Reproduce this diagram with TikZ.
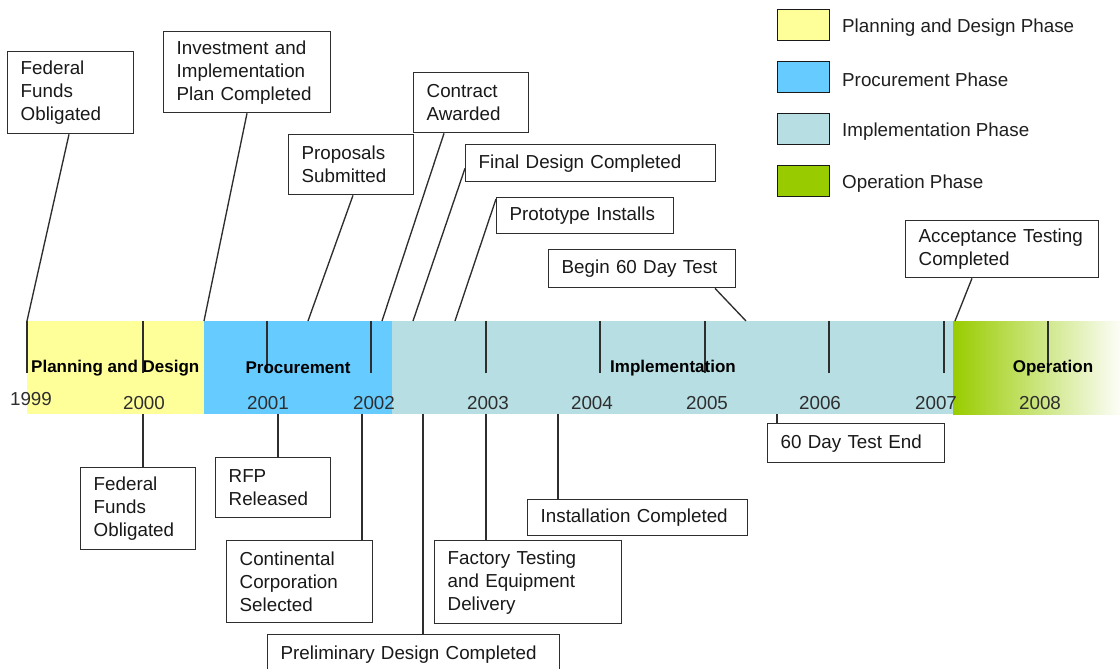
\documentclass[tikz,border=0pt]{standalone}
\usepackage{fontspec}
\setmainfont{Liberation Sans}
\definecolor{pyellow}{HTML}{FFFF99}
\definecolor{pblue}{HTML}{66CCFF}
\definecolor{pcyan}{HTML}{B7DEE3}
\definecolor{pgreen}{HTML}{99CC00}
\definecolor{lnc}{HTML}{2E2E2E}
\begin{document}
\begin{tikzpicture}[x=1pt,y=-1pt,
  cbox/.style={draw=lnc, line width=1.35pt, fill=white, inner xsep=13pt, inner ysep=0pt,
    align=left, anchor=north west, font=\fontsize{18.8}{23}\selectfont, text=black!90},
  lead/.style={draw=lnc, line width=1.35pt},
  yeartick/.style={draw=lnc, line width=1.35pt},
  yearlbl/.style={font=\fontsize{18.8}{23}\selectfont, text=black!82, inner sep=0pt},
  phlbl/.style={font=\fontsize{17}{20}\selectfont\bfseries, text=black, inner sep=0pt},
  legbox/.style={draw=black!90, line width=1.2pt, anchor=north west, inner sep=0pt,
    minimum width=52pt, minimum height=31pt},
  legtxt/.style={anchor=west, inner sep=0pt, font=\fontsize{18.8}{23}\selectfont, text=black!88}
]
\useasboundingbox (0,0) rectangle (1120,669);
% bands
\fill[pyellow] (27,321) rectangle (204,414);
\fill[pblue] (204,321) rectangle (392,414);
\fill[pcyan] (392,321) rectangle (953,414);
\shade[left color=pgreen, right color=white!97!pgreen] (953,321) rectangle (1120,414);
% ticks
\foreach \t in {27,143,267,371,486,600,705,829,944,1048}
  \draw[yeartick] (\t,321) -- (\t,373);
% phase labels
\node[phlbl, anchor=west] (lp) at (31,368) {Planning and Design};
\node[phlbl] (lq) at (298,368) {Procurement};
\node[phlbl] (li) at (673,368) {Implementation};
\node[phlbl] (lo) at (1053,368) {Operation};
% years
\node[yearlbl] (y99) at (31,399) {1999};
\node[yearlbl] (y00) at (144,403) {2000};
\node[yearlbl] (y01) at (268,403) {2001};
\node[yearlbl] (y02) at (374,403) {2002};
\node[yearlbl] (y03) at (488,403) {2003};
\node[yearlbl] (y04) at (592,403) {2004};
\node[yearlbl] (y05) at (707,403) {2005};
\node[yearlbl] (y06) at (820,403) {2006};
\node[yearlbl] (y07) at (936,403) {2007};
\node[yearlbl] (y08) at (1040,403) {2008};
% band anchor points
\coordinate (t1) at (27,321);
\coordinate (t2) at (204,321);
\coordinate (t3) at (308,321);
\coordinate (t4) at (382,321);
\coordinate (t5) at (413,321);
\coordinate (t6) at (455,321);
\coordinate (t7) at (746,321);
\coordinate (t8) at (955,321);
\coordinate (b1) at (143,414);
\coordinate (b2) at (278,414);
\coordinate (b3) at (362,414);
\coordinate (b4) at (423,414);
\coordinate (b5) at (486,414);
\coordinate (b6) at (558,414);
\coordinate (b7) at (777,414);
% top callouts
\node[cbox, minimum width=126pt, minimum height=82pt, text width=100pt] (ff1) at (7,51) {Federal\\Funds\\Obligated};
\node[cbox, minimum width=167pt, minimum height=81pt, text width=141pt] (inv) at (163,31) {Investment and\\Implementation\\Plan Completed};
\node[cbox, minimum width=125pt, minimum height=60pt, text width=99pt] (prop) at (288,134) {Proposals\\Submitted};
\node[cbox, minimum width=115pt, minimum height=60pt, text width=89pt] (contr) at (413,72) {Contract\\Awarded};
\node[cbox, minimum width=250pt, minimum height=37pt, text width=224pt] (fdc) at (465,144) {Final Design Completed};
\node[cbox, minimum width=177pt, minimum height=36pt, text width=151pt] (proto) at (496,197) {Prototype Installs};
\node[cbox, minimum width=187pt, minimum height=38pt, text width=161pt] (b60) at (548,249) {Begin 60 Day Test};
\node[cbox, minimum width=193pt, minimum height=57pt, text width=167pt] (acc) at (905,220) {Acceptance Testing\\Completed};
% bottom callouts
\node[cbox, minimum width=115pt, minimum height=82pt, text width=89pt] (ff2) at (80,467) {Federal\\Funds\\Obligated};
\node[cbox, minimum width=115pt, minimum height=60pt, text width=89pt] (rfp) at (215,457) {RFP\\Released};
\node[cbox, minimum width=146pt, minimum height=82pt, text width=120pt] (cont) at (226,540) {Continental\\Corporation\\Selected};
\node[cbox, minimum width=292pt, minimum height=40pt, text width=266pt] (pdc) at (267,634) {Preliminary Design Completed};
\node[cbox, minimum width=187pt, minimum height=83pt, text width=161pt] (fact) at (434,540) {Factory Testing\\and Equipment\\Delivery};
\node[cbox, minimum width=220pt, minimum height=36pt, text width=194pt] (inst) at (527,499) {Installation Completed};
\node[cbox, minimum width=177pt, minimum height=39pt, text width=151pt] (e60) at (767,423) {60 Day Test End};
% leaders (top)
\draw[lead] ([xshift=62pt]ff1.south west) -- (t1);
\draw[lead] ([xshift=84pt]inv.south west) -- (t2);
\draw[lead] ([xshift=65pt]prop.south west) -- (t3);
\draw[lead] ([xshift=31pt]contr.south west) -- (t4);
\draw[lead] ([yshift=14pt]fdc.south west) -- (t5);
\draw[lead] ([yshift=-2pt]proto.north west) -- (t6);
\draw[lead] ([xshift=167pt]b60.south west) -- (t7);
\draw[lead] ([xshift=67pt]acc.south west) -- (t8);
% leaders (bottom)
\draw[lead] (b1) -- (ff2.north -| b1);
\draw[lead] (b2) -- (rfp.north -| b2);
\draw[lead] (b3) -- (cont.north -| b3);
\draw[lead] (b4) -- (pdc.north -| b4);
\draw[lead] (b5) -- (fact.north -| b5);
\draw[lead] (b6) -- (inst.north -| b6);
\draw[lead] (b7) -- (e60.north -| b7);
% legend
\node[legbox, fill=pyellow] (lg1) at (777,9) {};
\node[legbox, fill=pblue] (lg2) at (777,61) {};
\node[legbox, fill=pcyan] (lg3) at (777,113) {};
\node[legbox, fill=pgreen] (lg4) at (777,165) {};
\node[legtxt] (lt1) at (842,28) {Planning and Design Phase};
\node[legtxt] (lt2) at (842,80) {Procurement Phase};
\node[legtxt] (lt3) at (842,132) {Implementation Phase};
\node[legtxt] (lt4) at (842,184) {Operation Phase};
\end{tikzpicture}
\end{document}
